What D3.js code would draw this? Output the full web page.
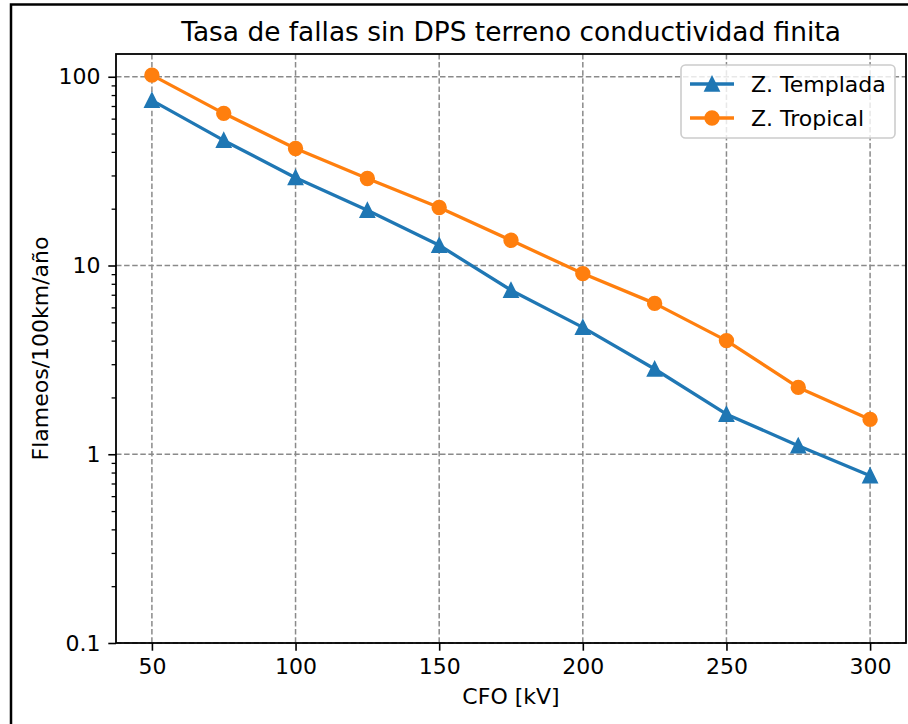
<!DOCTYPE html>
<html>
<head>
<meta charset="utf-8">
<script src="https://cdn.jsdelivr.net/npm/d3@7"></script>
<style>
  html, body { margin: 0; padding: 0; background: #fff; }
  svg { display: block; }
  text { font-family: "DejaVu Sans", sans-serif; fill: #000; }
</style>
</head>
<body>
<script>
// ---- data ----
const cfo = [50, 75, 100, 125, 150, 175, 200, 225, 250, 275, 300];
const templada = [75, 46, 29.2, 19.6, 12.8, 7.4, 4.7, 2.83, 1.63, 1.11, 0.77];
const tropical = [102, 64, 41.7, 28.9, 20.3, 13.6, 9.06, 6.3, 4.0, 2.26, 1.53];
const xTicks = [50, 100, 150, 200, 250, 300];
const yTicks = [0.1, 1, 10, 100];
const yTickLabels = ["0.1", "1", "10", "100"];
const seriesNames = ["Z. Templada", "Z. Tropical"];
const titleText = "Tasa de fallas sin DPS terreno conductividad finita";
const xLabelText = "CFO [kV]";
const yLabelText = "Flameos/100km/año";

const W = 908, H = 724;
const L = 116, R = 906, T = 54, B = 643;
const C1 = "#1f77b4", C2 = "#ff7f0e";

const svg = d3.select("body").append("svg").attr("width", W).attr("height", H);

// outer frame
svg.append("rect").attr("x", 11).attr("y", 4.5).attr("width", 920).attr("height", 740)
  .attr("fill", "none").attr("stroke", "#000").attr("stroke-width", 2.5);

const x = d3.scaleLinear().domain([37.5, 312.5]).range([L, R]);
const y = d3.scaleLog().domain([0.1, 132]).range([B, T]);

// grid
const grid = svg.append("g");
xTicks.forEach(v => grid.append("line")
  .attr("x1", x(v)).attr("x2", x(v)).attr("y1", T).attr("y2", B)
  .attr("stroke", "#8a8a8a").attr("stroke-width", 1.5).attr("stroke-dasharray", "5.5,2.6"));
yTicks.forEach(v => grid.append("line")
  .attr("x1", L).attr("x2", R).attr("y1", y(v)).attr("y2", y(v))
  .attr("stroke", "#8a8a8a").attr("stroke-width", 1.5).attr("stroke-dasharray", "5.5,2.6"));

// axes
const xAxis = d3.axisBottom(x).tickValues(xTicks).tickFormat(d3.format("d"))
  .tickSize(7.7).tickPadding(7.7);
const gx = svg.append("g").attr("transform", `translate(0,${B})`).call(xAxis);
gx.select(".domain").remove();
gx.selectAll(".tick line").attr("stroke", "#000").attr("stroke-width", 1.6);
gx.selectAll(".tick text").attr("font-size", 22).attr("font-family", "DejaVu Sans");

const yAxis = d3.axisLeft(y).tickValues(yTicks).tickFormat((d, i) => yTickLabels[i])
  .tickSize(7.7).tickPadding(7.7);
const gy = svg.append("g").attr("transform", `translate(${L},0)`).call(yAxis);
gy.select(".domain").remove();
gy.selectAll(".tick line").attr("stroke", "#000").attr("stroke-width", 1.6);
gy.selectAll(".tick text").attr("font-size", 22).attr("font-family", "DejaVu Sans");

// minor ticks
const minor = [];
[0.1, 1, 10, 100].forEach(dec => { for (let k = 2; k <= 9; k++) { const v = dec * k; if (v <= 132) minor.push(v); } });
const yMinor = d3.axisLeft(y).tickValues(minor).tickFormat("").tickSize(4.4);
const gym = svg.append("g").attr("transform", `translate(${L},0)`).call(yMinor);
gym.select(".domain").remove();
gym.selectAll(".tick line").attr("stroke", "#000").attr("stroke-width", 1.3);

// series
const line = d3.line().x((d, i) => x(cfo[i])).y(d => y(d));
const triPath = (cx, cy, s) => `M${cx},${cy - s}L${cx - s},${cy + s}L${cx + s},${cy + s}Z`;

svg.append("path").datum(templada).attr("d", line)
  .attr("fill", "none").attr("stroke", C1).attr("stroke-width", 3.3).attr("stroke-linejoin", "round");
svg.append("g").selectAll("path").data(templada).join("path")
  .attr("d", (d, i) => triPath(x(cfo[i]), y(d), 6.6))
  .attr("fill", C1).attr("stroke", C1).attr("stroke-width", 2.2).attr("stroke-linejoin", "miter");

svg.append("path").datum(tropical).attr("d", line)
  .attr("fill", "none").attr("stroke", C2).attr("stroke-width", 3.3).attr("stroke-linejoin", "round");
svg.append("g").selectAll("circle").data(tropical).join("circle")
  .attr("cx", (d, i) => x(cfo[i])).attr("cy", d => y(d)).attr("r", 6.6)
  .attr("fill", C2).attr("stroke", C2).attr("stroke-width", 2.2);

// spines
svg.append("rect").attr("x", L).attr("y", T).attr("width", R - L).attr("height", B - T)
  .attr("fill", "none").attr("stroke", "#000").attr("stroke-width", 1.8);

// title & labels
svg.append("text").attr("x", (L + R) / 2).attr("y", 41).attr("text-anchor", "middle")
  .attr("font-size", 26.4).text(titleText);
svg.append("text").attr("x", (L + R) / 2).attr("y", 704).attr("text-anchor", "middle")
  .attr("font-size", 22).text(xLabelText);
svg.append("text").attr("transform", `translate(48,${(T + B) / 2}) rotate(-90)`)
  .attr("text-anchor", "middle").attr("font-size", 22).text(yLabelText);

// legend
const lg = svg.append("g");
lg.append("rect").attr("x", 681).attr("y", 65).attr("width", 214).attr("height", 73)
  .attr("rx", 4.4).attr("fill", "#fff").attr("fill-opacity", 0.8)
  .attr("stroke", "#cccccc").attr("stroke-width", 1.6);
const rows = [{ name: seriesNames[0], c: C1, m: "tri", yy: 84 }, { name: seriesNames[1], c: C2, m: "circ", yy: 118 }];
rows.forEach(r => {
  lg.append("line").attr("x1", 690).attr("x2", 734).attr("y1", r.yy).attr("y2", r.yy)
    .attr("stroke", r.c).attr("stroke-width", 3.3);
  if (r.m === "tri") {
    lg.append("path").attr("d", triPath(712, r.yy, 6.6)).attr("fill", r.c).attr("stroke", r.c).attr("stroke-width", 2.2);
  } else {
    lg.append("circle").attr("cx", 712).attr("cy", r.yy).attr("r", 6.6).attr("fill", r.c).attr("stroke", r.c).attr("stroke-width", 2.2);
  }
  lg.append("text").attr("x", 751).attr("y", r.yy).attr("dy", "0.36em").attr("font-size", 22).text(r.name);
});
</script>
</body>
</html>
